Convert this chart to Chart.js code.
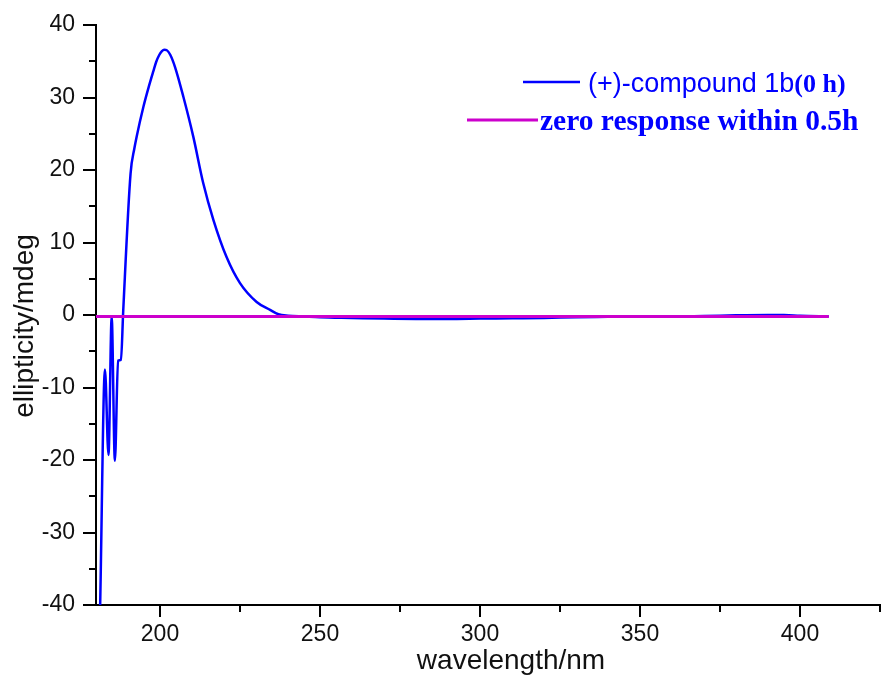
<!DOCTYPE html>
<html>
<head>
<meta charset="utf-8">
<script src="https://cdn.jsdelivr.net/npm/chart.js@4"></script>
<style>
html,body{margin:0;padding:0;background:#fff;}
#wrap{width:884px;height:677px;position:relative;}
</style>
</head>
<body>
<div id="wrap"><canvas id="c" width="884" height="677"></canvas></div>
<script>
// ---- data ----
const wavelength = [181.3, 182.8, 183.9, 184.9, 185.9, 186.9, 187.8, 188.5, 190.8, 192.0, 192.7, 194.8, 196.5, 197.9, 198.8, 199.8, 200.6, 201.3, 202.2, 203.2, 204.7, 207.3, 210.4, 213.5, 216.7, 220.8, 225.0, 230.2, 234.4, 237.0, 240.0, 245.0, 250.0, 260.0, 270.0, 280.0, 290.0, 300.0, 310.0, 320.0, 330.0, 340.0, 350.0, 360.0, 370.0, 380.0, 390.0, 395.0, 400.0, 409.0];
const compound1b = [-40.0, -7.5, -19.3, -0.3, -20.1, -6.3, -6.2, 0.5, 19.5, 23.0, 24.6, 28.7, 31.5, 33.6, 34.9, 35.9, 36.4, 36.6, 36.5, 35.9, 34.2, 30.1, 24.6, 18.2, 13.1, 8.0, 4.4, 1.8, 0.7, 0.1, -0.1, -0.2, -0.3, -0.4, -0.5, -0.55, -0.55, -0.5, -0.45, -0.4, -0.3, -0.25, -0.2, -0.2, -0.15, -0.05, 0.0, 0.0, -0.1, -0.2];
const zeroWavelength = [180, 250, 300, 350, 409];
const zeroResponse = [-0.2, -0.2, -0.2, -0.2, -0.2];

const xMajorTicks = [200, 250, 300, 350, 400];
const xMinorTicks = [225, 275, 325, 375, 425];
const yMajorTicks = [-40, -30, -20, -10, 0, 10, 20, 30, 40];
const yMinorTicks = [-35, -25, -15, -5, 5, 15, 25, 35];

const seriesLabel1 = "(+)-compound 1b";
const seriesLabel1Suffix = "(0 h)";
const seriesLabel2 = "zero response within 0.5h";
const xTitle = "wavelength/nm";
const yTitle = "ellipticity/mdeg";

const BLUE = '#0000FF';
const MAGENTA = '#CC00CC';
const SANS = '"Liberation Sans", Arial, sans-serif';
const SERIF = '"Liberation Serif", "Times New Roman", serif';

const toPoints = (xs, ys) => xs.map((x, i) => ({x: x, y: ys[i]}));

const decor = {
  id: 'decor',
  afterDraw(chart) {
    const ctx = chart.ctx;
    const xs = chart.scales.x, ys = chart.scales.y;
    const area = chart.chartArea;
    ctx.save();
    ctx.strokeStyle = '#000';
    ctx.lineWidth = 2;
    ctx.beginPath();
    // x ticks
    xMajorTicks.forEach(v => { const p = Math.round(xs.getPixelForValue(v)); ctx.moveTo(p, area.bottom); ctx.lineTo(p, area.bottom + 12); });
    xMinorTicks.forEach(v => { const p = Math.round(xs.getPixelForValue(v)); ctx.moveTo(p, area.bottom); ctx.lineTo(p, area.bottom + 7); });
    // y ticks
    yMajorTicks.forEach(v => { const p = Math.round(ys.getPixelForValue(v)); ctx.moveTo(area.left, p); ctx.lineTo(area.left - 13, p); });
    yMinorTicks.forEach(v => { const p = Math.round(ys.getPixelForValue(v)); ctx.moveTo(area.left, p); ctx.lineTo(area.left - 7, p); });
    ctx.stroke();

    // axis titles
    ctx.fillStyle = '#111';
    ctx.font = '28px ' + SANS;
    ctx.textAlign = 'center';
    ctx.textBaseline = 'middle';
    ctx.fillText(xTitle, 511, 661);
    ctx.save();
    ctx.translate(25, 326);
    ctx.rotate(-Math.PI / 2);
    ctx.fillText(yTitle, 0, 0);
    ctx.restore();

    // legend
    ctx.lineWidth = 2.5;
    ctx.strokeStyle = BLUE;
    ctx.beginPath(); ctx.moveTo(523, 82); ctx.lineTo(580, 82); ctx.stroke();
    ctx.strokeStyle = MAGENTA;
    ctx.lineWidth = 3;
    ctx.beginPath(); ctx.moveTo(467, 120); ctx.lineTo(538, 120); ctx.stroke();

    ctx.fillStyle = BLUE;
    ctx.textAlign = 'left';
    ctx.textBaseline = 'alphabetic';
    ctx.font = '27px ' + SANS;
    ctx.fillText(seriesLabel1, 588, 92);
    const w1 = ctx.measureText(seriesLabel1).width;
    ctx.font = 'bold 26px ' + SERIF;
    ctx.fillText(seriesLabel1Suffix, 588 + w1, 92);
    ctx.font = 'bold 29.5px ' + SERIF;
    ctx.fillText(seriesLabel2, 540, 130);
    ctx.restore();
  }
};

new Chart(document.getElementById('c'), {
  type: 'line',
  data: {
    datasets: [
      {
        label: seriesLabel2,
        data: toPoints(zeroWavelength, zeroResponse),
        borderColor: MAGENTA,
        borderWidth: 3,
        pointRadius: 0,
        tension: 0,
        order: 0
      },
      {
        label: seriesLabel1,
        data: toPoints(wavelength, compound1b),
        borderColor: BLUE,
        borderWidth: 2.5,
        pointRadius: 0,
        cubicInterpolationMode: 'monotone',
        order: 1
      }
    ]
  },
  options: {
    responsive: false,
    animation: false,
    devicePixelRatio: 1,
    layout: { padding: { top: 25, right: 4, left: 0, bottom: 0 } },
    plugins: { legend: { display: false }, tooltip: { enabled: false } },
    scales: {
      x: {
        type: 'linear',
        min: 180,
        max: 425,
        afterFit: s => { s.height = 72; s.paddingLeft = 0; s.paddingRight = 0; },
        afterBuildTicks: s => { s.ticks = xMajorTicks.map(v => ({value: v})); },
        grid: { display: false, drawTicks: false },
        border: { display: true, color: '#000', width: 2 },
        ticks: { color: '#111', padding: 16, font: { family: SANS, size: 23 }, maxRotation: 0, autoSkip: false }
      },
      y: {
        type: 'linear',
        min: -40,
        max: 40,
        afterFit: s => { s.width = 96; s.paddingTop = 0; s.paddingBottom = 0; },
        afterBuildTicks: s => { s.ticks = yMajorTicks.map(v => ({value: v})); },
        grid: { display: false, drawTicks: false },
        border: { display: true, color: '#000', width: 2 },
        ticks: { color: '#111', padding: 21, font: { family: SANS, size: 23 }, autoSkip: false }
      }
    }
  },
  plugins: [decor]
});
</script>
</body>
</html>
